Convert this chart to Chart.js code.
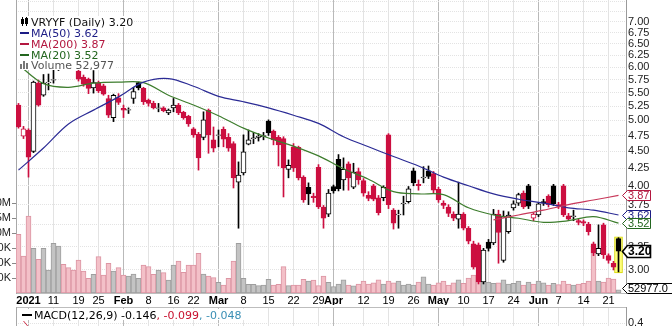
<!DOCTYPE html>
<html>
<head>
<meta charset="utf-8">
<script src="https://cdn.jsdelivr.net/npm/chart.js@4.4.0/dist/chart.umd.min.js"></script>
<style>
  body { margin: 0; width: 672px; height: 326px; overflow: hidden; position: relative; background: #fff; }
  #main { position: absolute; left: 0; top: 0; width: 672px; height: 305px; }
  #macd { position: absolute; left: 0; top: 307px; width: 672px; height: 120px; }
  .leg { position: absolute; left: 18px; height: 11px; line-height: 11px; font: 11px 'DejaVu Sans', sans-serif;
         background: #fff; white-space: nowrap; padding-right: 1px; }
  .dash { display: inline-block; width: 9px; height: 2px; vertical-align: middle; margin: 0 2px 2px 2px; }
  .ico { vertical-align: top; margin: 1px 2px 0 2px; }
  #macdleg { position: absolute; left: 17px; top: 309px; height: 11px; line-height: 11px; padding: 0 6px 0 3px;
             font: 11px 'DejaVu Sans', sans-serif; background: #fff; white-space: nowrap; }
</style>
</head>
<body>
<div id="main"><canvas id="priceChart"></canvas></div>
<div id="macd"><canvas id="macdChart"></canvas></div>

<div class="leg" style="top:16px;color:#111"><svg class="ico" width="9" height="9"><rect x="1" y="2" width="3" height="5" fill="#000"/><line x1="2.5" y1="0" x2="2.5" y2="9" stroke="#000"/><rect x="5.5" y="1.5" width="2" height="5" fill="none" stroke="#000"/><line x1="6.5" y1="0" x2="6.5" y2="9" stroke="#000"/></svg>VRYYF (Daily) 3.20</div>
<div class="leg" style="top:27px;color:#1c1c85"><span class="dash" style="background:#1c1c85"></span>MA(50) 3.62</div>
<div class="leg" style="top:38px;color:#b3173f"><span class="dash" style="background:#b3173f"></span>MA(200) 3.87</div>
<div class="leg" style="top:49px;color:#23661f"><span class="dash" style="background:#23661f"></span>MA(20) 3.52</div>
<div class="leg" style="top:59px;color:#555"><svg class="ico" width="9" height="9"><rect x="0" y="4" width="2" height="5" fill="#777"/><rect x="3" y="1" width="2" height="8" fill="#777"/><rect x="6" y="3" width="2" height="6" fill="#777"/></svg>Volume 52,977</div>
<div id="macdleg"><span class="dash" style="background:#000;width:10px"></span>MACD(12,26,9) -0.146<span style="color:#c8102e">, -0.099</span><span style="color:#3a8fb5">, -0.048</span></div>

<script>
// trading calendar
const holidays = ['2021-01-01', '2021-01-18', '2021-02-15', '2021-04-02', '2021-05-31'];
function tradingDays(from, to) {
    const out = [];
    const end = new Date(to + 'T00:00:00Z');
    for (let d = new Date(from + 'T00:00:00Z'); d <= end; d.setUTCDate(d.getUTCDate() + 1)) {
        const s = d.toISOString().slice(0, 10);
        const wd = d.getUTCDay();
        if (wd !== 0 && wd !== 6 && !holidays.includes(s)) out.push(s);
    }
    return out;
}
const dates = tradingDays('2020-12-30', '2021-06-23');

const opens = [
    5.27, 4.74, 4.84, 4.50, 5.68, 5.45, 5.69, 5.74, 5.95, 6.25,
    6.15, 6.05, 5.92, 5.80, 5.76, 5.59, 5.69, 5.63, 5.39, 5.05,
    5.40, 5.21, 5.18, 5.39, 5.69, 5.58, 5.36, 5.30, 5.21, 5.22,
    5.13, 5.22, 5.27, 5.14, 5.07, 4.86, 4.77, 4.72, 5.18, 4.68,
    4.75, 4.85, 4.72, 4.62, 4.05, 4.18, 4.61, 4.70, 4.72, 4.73,
    4.99, 4.82, 4.72, 4.70, 4.23, 4.57, 4.56, 4.12, 3.98, 3.86,
    4.26, 3.72, 3.63, 3.99, 4.38, 4.08, 4.31, 3.98, 4.20, 4.07,
    3.87, 4.00, 3.84, 3.84, 4.76, 3.68, 3.62, 3.76, 3.79, 4.21,
    4.02, 4.11, 4.21, 4.17, 3.95, 3.77, 3.72, 3.63, 3.57, 3.63,
    3.46, 3.28, 3.27, 2.88, 3.30, 3.29, 3.63, 3.10, 3.42, 3.71,
    3.77, 3.90, 4.00, 3.58, 3.62, 3.79, 3.86, 4.00, 3.75, 4.00,
    3.61, 3.60, 3.55, 3.54, 3.51, 3.28, 3.17, 3.50, 3.15, 3.07,
    3.34
];
const highs = [
    5.30, 4.90, 4.86, 5.72, 5.74, 5.85, 5.86, 5.97, 6.40, 6.35,
    6.20, 6.12, 5.97, 5.84, 5.78, 5.93, 5.72, 5.66, 5.45, 5.47,
    5.48, 5.27, 5.22, 5.60, 5.70, 5.60, 5.38, 5.34, 5.30, 5.24,
    5.20, 5.39, 5.30, 5.16, 5.09, 4.88, 4.80, 5.15, 5.20, 4.89,
    4.84, 4.89, 4.78, 4.65, 4.34, 4.76, 4.84, 4.80, 4.78, 4.80,
    5.01, 4.84, 4.75, 4.73, 4.37, 4.62, 4.58, 4.14, 4.04, 3.90,
    4.30, 3.74, 3.95, 4.01, 4.45, 4.40, 4.34, 4.32, 4.25, 4.10,
    3.92, 4.02, 3.87, 4.00, 4.78, 3.70, 3.68, 3.86, 3.99, 4.25,
    4.08, 4.27, 4.28, 4.20, 3.98, 3.80, 3.75, 3.66, 4.05, 3.65,
    3.48, 3.31, 3.29, 3.23, 3.33, 3.69, 3.68, 3.67, 3.66, 3.80,
    3.90, 3.93, 4.02, 3.65, 3.78, 3.82, 3.88, 4.02, 3.78, 4.02,
    3.64, 3.68, 3.57, 3.56, 3.53, 3.30, 3.50, 3.52, 3.17, 3.09,
    3.35
];
const lows = [
    4.87, 4.70, 4.12, 4.48, 5.25, 5.43, 5.55, 5.68, 5.93, 6.05,
    6.00, 5.97, 5.72, 5.62, 5.48, 5.49, 5.50, 5.45, 5.05, 4.98,
    5.28, 5.05, 5.12, 5.30, 5.55, 5.28, 5.25, 5.20, 5.15, 5.15,
    5.10, 5.15, 5.10, 5.02, 4.90, 4.72, 4.22, 4.68, 4.47, 4.49,
    4.57, 4.57, 4.50, 3.97, 3.46, 4.15, 4.60, 4.62, 4.66, 4.68,
    4.75, 4.60, 4.28, 3.85, 4.11, 4.20, 4.08, 3.78, 3.75, 3.78,
    3.70, 3.46, 3.60, 3.90, 3.93, 3.94, 3.94, 3.96, 4.02, 3.86,
    3.80, 3.80, 3.62, 3.80, 3.70, 3.45, 3.46, 3.62, 3.77, 4.00,
    3.94, 4.04, 4.10, 3.90, 3.78, 3.70, 3.60, 3.55, 3.46, 3.44,
    3.28, 3.01, 2.86, 2.86, 3.20, 3.27, 3.07, 3.08, 3.40, 3.68,
    3.74, 3.70, 3.70, 3.55, 3.60, 3.74, 3.72, 3.74, 3.70, 3.60,
    3.55, 3.55, 3.50, 3.49, 3.38, 3.15, 3.15, 3.12, 3.07, 3.00,
    2.98
];
const closes = [
    4.89, 4.86, 4.41, 5.70, 5.27, 5.68, 5.70, 5.75, 6.25, 6.10,
    6.05, 6.00, 5.76, 5.66, 5.58, 5.69, 5.53, 5.47, 5.09, 5.45,
    5.32, 5.18, 5.19, 5.52, 5.59, 5.33, 5.30, 5.22, 5.22, 5.17,
    5.18, 5.27, 5.13, 5.05, 4.94, 4.76, 4.40, 5.01, 4.76, 4.55,
    4.76, 4.69, 4.55, 4.11, 4.15, 4.49, 4.68, 4.71, 4.74, 4.75,
    4.79, 4.68, 4.60, 4.25, 4.29, 4.25, 4.11, 3.81, 3.89, 3.84,
    3.72, 3.58, 3.90, 3.93, 3.96, 4.23, 4.11, 4.19, 4.08, 3.90,
    3.83, 3.82, 3.65, 3.98, 3.75, 3.52, 3.63, 3.77, 3.96, 4.04,
    4.00, 4.12, 4.13, 3.94, 3.81, 3.74, 3.64, 3.58, 3.63, 3.46,
    3.31, 3.03, 2.88, 3.21, 3.23, 3.63, 3.41, 3.60, 3.62, 3.76,
    3.88, 3.72, 3.73, 3.63, 3.76, 3.77, 3.75, 3.76, 3.73, 3.62,
    3.57, 3.61, 3.53, 3.52, 3.42, 3.18, 3.23, 3.16, 3.10, 3.03,
    3.20
];
const volumes = [
    978000, 617000, 1283000, 745000, 561000, 745000, 383000, 828000, 783000, 478000,
    422000, 383000, 550000, 367000, 244000, 311000, 606000, 300000, 494000, 367000,
    422000, 300000, 283000, 317000, 244000, 467000, 439000, 311000, 383000, 339000,
    217000, 467000, 533000, 344000, 467000, 467000, 661000, 317000, 283000, 256000,
    178000, 133000, 244000, 533000, 828000, 244000, 144000, 144000, 122000, 133000,
    228000, 133000, 144000, 439000, 122000, 133000, 133000, 228000, 200000, 217000,
    122000, 283000, 178000, 106000, 150000, 220000, 130000, 120000, 150000, 200000,
    150000, 170000, 220000, 150000, 200000, 170000, 200000, 130000, 150000, 130000,
    180000, 270000, 150000, 130000, 170000, 200000, 130000, 170000, 220000, 160000,
    250000, 300000, 220000, 220000, 180000, 160000, 170000, 220000, 150000, 160000,
    200000, 130000, 180000, 150000, 200000, 170000, 130000, 160000, 140000, 200000,
    150000, 130000, 150000, 160000, 200000, 760000, 200000, 180000, 250000, 230000,
    52977
];

// moving averages read every 5 trading days (day 0, 5, 10, ...)
const maStep = 5;
const ma20 = [6.05, 5.67, 5.60, 5.68, 5.70, 5.69, 5.45, 5.27, 5.08, 4.87, 4.71, 4.58, 4.43,
              4.24, 4.09, 3.92, 3.89, 3.88, 3.71, 3.62, 3.58, 3.53, 3.55, 3.60, 3.52];
const ma50 = [4.22, 4.55, 4.94, 5.18, 5.42, 5.70, 5.77, 5.62, 5.43, 5.33, 5.22, 5.09, 4.95,
              4.73, 4.57, 4.42, 4.28, 4.12, 4.00, 3.89, 3.82, 3.77, 3.71, 3.68, 3.62];
const ma200 = [null, null, null, null, null, null, null, null, null, null, null, null, null,
               null, null, null, null, null, null, 3.56, 3.62, 3.68, 3.75, 3.81, 3.87];

// MACD signal line, only its start is inside the picture
const macdSignal = [null, 0.42, 0.36, 0.30];

// x axis ticks
const tickDates = ['2021-01-04', '2021-01-11', '2021-01-19', '2021-01-25', '2021-02-01', '2021-02-08',
    '2021-02-16', '2021-02-22', '2021-03-01', '2021-03-08', '2021-03-15', '2021-03-22', '2021-03-29',
    '2021-04-01', '2021-04-12', '2021-04-19', '2021-04-26', '2021-05-03', '2021-05-10', '2021-05-17',
    '2021-05-24', '2021-06-01', '2021-06-07', '2021-06-14', '2021-06-21'];
const tickText = ['2021', '11', '19', '25', 'Feb', '8', '16', '22', 'Mar', '8', '15', '22', '29',
    'Apr', '12', '19', '26', 'May', '10', '17', '24', 'Jun', '7', '14', '21'];
const priceTicks = [3.00, 3.25, 3.50, 3.75, 4.00, 4.25, 4.50, 4.75, 5.00, 5.25, 5.50, 5.75,
    6.00, 6.25, 6.50, 6.75, 7.00, 7.25, 7.50];
const volTicks = [250000, 500000, 750000, 1000000, 1250000, 1500000];

const RED = '#cc0f40';
const BLACK = '#000000';
const FONT = "'Liberation Sans', Arial, sans-serif";
const last = dates.length - 1;

const up = closes.map((c, k) => k === 0 ? c >= opens[k] : c >= closes[k - 1]);
const candleColor = up.map(u => u ? BLACK : RED);
const hollow = closes.map((c, k) => c > opens[k]);

const xTicks = tickDates.map((d, i) => ({ value: dates.indexOf(d), major: /[A-Za-z]|2021/.test(tickText[i]) }));

function xScale(showLabels, pos) {
    return {
        type: 'linear',
        position: pos,
        min: -0.5,
        max: dates.length + 0.5,
        offset: false,
        afterBuildTicks: s => { s.ticks = xTicks.map(t => ({ ...t })); },
        afterFit: s => { s.height = showLabels ? 12 : 0; },
        ticks: {
            display: showLabels,
            autoSkip: false,
            maxRotation: 0,
            padding: 1,
            color: '#000',
            callback: (v, i) => tickText[i],
            font: c => ({ family: FONT, size: 11, weight: c.tick && c.tick.major ? 'bold' : 'normal' })
        },
        grid: {
            offset: false,
            drawTicks: false,
            color: c => c.tick && c.tick.major ? '#b9b9b9' : '#e3e3e3'
        },
        border: { display: true, color: '#bdbdbd' }
    };
}

// value tags on the right edge, placed through the chart's own scales
const tagPlugin = {
    id: 'tags',
    afterDraw(chart) {
        const ctx = chart.ctx;
        const y = chart.scales.y;
        const v = chart.scales.vol;
        const x0 = chart.chartArea.right;
        const tags = [
            { py: y.getPixelForValue(ma200[ma200.length - 1]), text: ma200[ma200.length - 1].toFixed(2), color: '#b3173f' },
            { py: y.getPixelForValue(ma50[ma50.length - 1]), text: ma50[ma50.length - 1].toFixed(2), color: '#1c1c85' },
            { py: y.getPixelForValue(ma20[ma20.length - 1]), text: ma20[ma20.length - 1].toFixed(2), color: '#23661f' },
            { py: y.getPixelForValue(closes[last]), text: closes[last].toFixed(2), color: '#000', bold: true },
            { py: v.getPixelForValue(volumes[last]) - 2, text: volumes[last].toFixed(1), color: '#000', wide: true }
        ];
        ctx.save();
        tags.forEach(t => {
            const right = t.wide ? x0 + 52 : x0 + 24.5;
            const h = t.bold ? 12 : 10;
            const cy = Math.round(t.py) + 0.5;
            ctx.beginPath();
            ctx.moveTo(x0 - 3.5, cy);
            ctx.lineTo(x0 + 1.5, cy - h / 2);
            ctx.lineTo(right, cy - h / 2);
            ctx.lineTo(right, cy + h / 2);
            ctx.lineTo(x0 + 1.5, cy + h / 2);
            ctx.closePath();
            ctx.fillStyle = '#fff';
            ctx.fill();
            ctx.lineWidth = t.bold ? 1.6 : 1;
            ctx.strokeStyle = t.color;
            ctx.stroke();
            ctx.fillStyle = t.color;
            ctx.font = (t.bold ? 'bold 12px ' : '11px ') + FONT;
            ctx.textBaseline = 'middle';
            ctx.textAlign = 'left';
            ctx.fillText(t.text, x0 + 2, cy + 0.5);
        });
        ctx.restore();
    }
};

new Chart(document.getElementById('priceChart'), {
    type: 'bar',
    data: {
        datasets: [
            {
                label: 'highlight',
                data: [{ x: last, y: [lows[last] - 0.01, highs[last] + 0.01] }],
                backgroundColor: '#ffff7a',
                borderColor: '#d6d600',
                borderWidth: 1,
                borderSkipped: false,
                barThickness: 8,
                grouped: false,
                yAxisID: 'y',
                order: 6
            },
            {
                label: 'Volume',
                data: volumes.map((v, k) => ({ x: k, y: v })),
                backgroundColor: up.map(u => u ? '#c3c3c3' : '#f3c0c8'),
                borderColor: up.map(u => u ? '#9e9e9e' : '#dc95a3'),
                borderWidth: 1,
                borderSkipped: false,
                barThickness: 5,
                grouped: false,
                yAxisID: 'vol',
                order: 5
            },
            {
                label: 'wicks',
                data: closes.map((c, k) => ({ x: k, y: [lows[k], highs[k]] })),
                backgroundColor: candleColor,
                borderWidth: 0,
                barThickness: 1,
                grouped: false,
                yAxisID: 'y',
                order: 3
            },
            {
                label: 'bodies',
                data: closes.map((c, k) => ({ x: k, y: [Math.min(opens[k], c), Math.max(opens[k], c)] })),
                backgroundColor: closes.map((c, k) => hollow[k] ? '#ffffff' : candleColor[k]),
                borderColor: candleColor,
                borderWidth: 1,
                borderSkipped: false,
                barThickness: 5,
                grouped: false,
                yAxisID: 'y',
                order: 2
            },
            {
                type: 'line',
                label: 'MA(200)',
                data: ma200.map((v, m) => ({ x: m * maStep, y: v })).filter(p => p.y !== null),
                borderColor: '#c8385a',
                borderWidth: 1.2,
                pointRadius: 0,
                tension: 0.35,
                yAxisID: 'y',
                order: 1
            },
            {
                type: 'line',
                label: 'MA(50)',
                data: ma50.map((v, m) => ({ x: m * maStep, y: v })),
                borderColor: '#2b2b95',
                borderWidth: 1.2,
                pointRadius: 0,
                tension: 0.35,
                yAxisID: 'y',
                order: 1
            },
            {
                type: 'line',
                label: 'MA(20)',
                data: ma20.map((v, m) => ({ x: m * maStep, y: v })),
                borderColor: '#3d7d2d',
                borderWidth: 1.2,
                pointRadius: 0,
                tension: 0.35,
                yAxisID: 'y',
                order: 1
            }
        ]
    },
    options: {
        responsive: true,
        maintainAspectRatio: false,
        animation: false,
        devicePixelRatio: 1,
        layout: { padding: 0 },
        plugins: { legend: { display: false }, tooltip: { enabled: false } },
        scales: {
            x: xScale(true, 'bottom'),
            y: {
                type: 'logarithmic',
                position: 'right',
                min: 2.773,
                max: 7.546,
                afterBuildTicks: s => { s.ticks = priceTicks.map(v => ({ value: v })); },
                afterFit: s => { s.width = 46; s.paddingTop = 0; s.paddingBottom = 0; },
                ticks: {
                    autoSkip: false,
                    padding: 2,
                    color: '#222',
                    font: { family: FONT, size: 11 },
                    callback: v => v > 7.1 ? '' : Number(v).toFixed(2)
                },
                grid: { color: '#e3e3e3', drawTicks: false },
                border: { display: true, color: '#9a9a9a', dash: [1, 1] }
            },
            vol: {
                type: 'linear',
                position: 'left',
                min: 0,
                max: 293 / 15 * 250000,
                afterBuildTicks: s => { s.ticks = volTicks.map(v => ({ value: v })); },
                afterFit: s => { s.width = 16; s.paddingTop = 0; s.paddingBottom = 0; },
                ticks: {
                    autoSkip: false,
                    padding: 1,
                    color: '#222',
                    font: { family: FONT, size: 11 },
                    callback: v => v >= 1000000 ? (v / 1000000).toFixed(2) + 'M' : (v / 1000) + 'K'
                },
                grid: { drawOnChartArea: false, drawTicks: true, tickLength: 4, tickColor: '#888' },
                border: { display: true, color: '#a8a8a8' }
            }
        }
    },
    plugins: [tagPlugin]
});

new Chart(document.getElementById('macdChart'), {
    type: 'line',
    data: {
        datasets: [{
            label: 'signal',
            data: macdSignal.map((v, k) => ({ x: k, y: v })).filter(p => p.y !== null),
            borderColor: '#d0304a',
            borderWidth: 1,
            pointRadius: 0
        }]
    },
    options: {
        responsive: true,
        maintainAspectRatio: false,
        animation: false,
        devicePixelRatio: 1,
        layout: { padding: 0 },
        plugins: { legend: { display: false }, tooltip: { enabled: false } },
        scales: {
            x: xScale(false, 'top'),
            y: {
                type: 'linear',
                position: 'right',
                min: -0.64,
                max: 0.56,
                afterBuildTicks: s => { s.ticks = [0.4, 0.2, 0, -0.2, -0.4].map(v => ({ value: v })); },
                afterFit: s => { s.width = 46; s.paddingTop = 0; s.paddingBottom = 0; },
                ticks: { autoSkip: false, padding: 2, color: '#222', font: { family: FONT, size: 11 }, callback: v => v.toFixed(1) },
                grid: { color: '#e3e3e3', drawTicks: false },
                border: { display: true, color: '#9a9a9a', dash: [1, 1] }
            },
            l: {
                type: 'linear',
                position: 'left',
                afterFit: s => { s.width = 16; },
                ticks: { display: false },
                grid: { display: false },
                border: { display: true, color: '#a8a8a8' }
            }
        }
    }
});
</script>
</body>
</html>
